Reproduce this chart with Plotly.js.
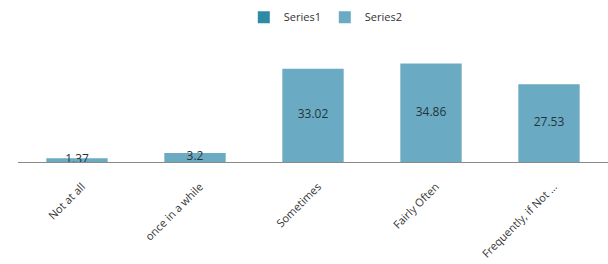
<!DOCTYPE html>
<html>
<head>
<meta charset="utf-8">
<script src="https://cdn.plot.ly/plotly-3.0.1.min.js"></script>
<style>html,body{margin:0;padding:0;background:#fff;}#chart{width:608px;height:264px;}</style>
</head>
<body>
<div id="chart"></div>
<script>
var categories = ["Not at all", "once in a while", "Sometimes", "Fairly Often", "Frequently, if Not ..."];
var series1 = [null, null, null, null, null];
var series2 = [1.37, 3.2, 33.02, 34.86, 27.53];
var labels2 = ["1.37", "3.2", "33.02", "34.86", "27.53"];

var font = "Open Sans, Liberation Sans, sans-serif";
var traces = [
  {type: "bar", name: "Series1", x: categories, y: series1, marker: {color: "#2d8ba5"}, hoverinfo: "skip"},
  {type: "bar", name: "Series2", x: categories, y: series2, marker: {color: "#6aabc3"}, hoverinfo: "skip"},
  {type: "scatter", mode: "text", x: categories, y: series2.map(function(v){return v/2;}),
   text: labels2, textfont: {family: font, size: 12, color: "#24343a"}, showlegend: false, hoverinfo: "skip", cliponaxis: false}
];
var layout = {
  width: 608, height: 264,
  margin: {l: 18, r: 0, t: 49, b: 102},
  barmode: "overlay",
  bargap: 0.48,
  paper_bgcolor: "#fff", plot_bgcolor: "#fff",
  showlegend: true,
  legend: {orientation: "h", x: 0.52, xanchor: "center", y: 0.99, yref: "container", yanchor: "top",
           font: {family: font, size: 11, color: "#333"}, itemwidth: 30, entrywidth: 36, traceorder: "normal"},
  xaxis: {type: "category", showline: true, linecolor: "#8a8a8a", linewidth: 1, tickangle: -45,
          ticks: "", ticklabelstandoff: 13, ticklabelshift: 5, tickfont: {family: font, size: 11, color: "#333"}, showgrid: false, zeroline: false, fixedrange: true},
  yaxis: {range: [0, 40], visible: false, showgrid: false, zeroline: false, fixedrange: true}
};
Plotly.newPlot("chart", traces, layout, {displayModeBar: false, staticPlot: true});
</script>
</body>
</html>
